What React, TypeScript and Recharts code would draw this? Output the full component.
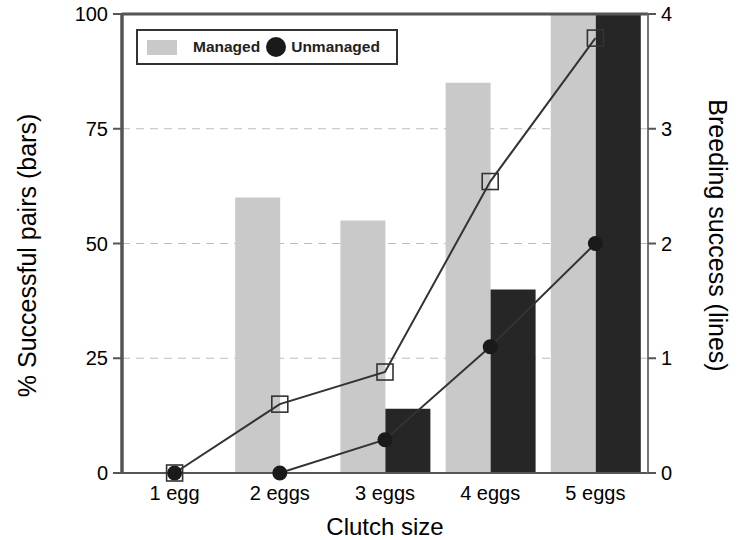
import React from "react";
import {
  ComposedChart, Bar, Line, XAxis, YAxis, CartesianGrid, ReferenceLine, Label,
} from "recharts";

const categories = ["1 egg", "2 eggs", "3 eggs", "4 eggs", "5 eggs"];
const managedPairs = [0, 60, 55, 85, 100];
const unmanagedPairs = [0, 0, 14, 40, 100];
const managedSuccess = [0, 0.6, 0.88, 2.54, 3.79];
const unmanagedSuccess = [0, 0, 0.29, 1.1, 2.0];
const leftTicks = [0, 25, 50, 75, 100];
const rightTicks = [0, 1, 2, 3, 4];
const legendNames = ["Managed", "Unmanaged"];

const data = categories.map((c, i) => ({
  clutch: c,
  managed: managedPairs[i],
  unmanaged: unmanagedPairs[i],
  managedLine: managedSuccess[i],
  unmanagedLine: unmanagedSuccess[i],
}));

const FONT = "'Liberation Sans', Arial, sans-serif";
const AXIS = "#555";
const LIGHT = "#c9c9c9";
const DARK = "#262626";

function SquareDot(props: any) {
  const { cx, cy } = props;
  if (cx == null || cy == null) return null;
  return <rect x={cx - 8} y={cy - 8} width={16} height={16} fill="none" stroke="#333" strokeWidth={1.6} />;
}

function CircleDot(props: any) {
  const { cx, cy } = props;
  if (cx == null || cy == null) return null;
  return <circle cx={cx} cy={cy} r={7.5} fill="#1a1a1a" />;
}

// legend drawn as a plain box over the plot, the chart keeps its full height
function LegendBox() {
  return (
    <div style={{
      position: "absolute", left: 136, top: 29, width: 262, height: 36,
      border: "2px solid #333", boxSizing: "border-box",
      display: "flex", alignItems: "center", paddingLeft: 9, background: "#fff",
      fontFamily: FONT, fontWeight: "bold", fontSize: 15.5, color: "#222",
    }}>
      {legendNames.map((name, i) => (
        <span key={name} style={{ display: "flex", alignItems: "center", marginRight: 6 }}>
          {i === 0 ? (
            <span style={{ display: "inline-block", width: 30, height: 15, background: LIGHT, marginRight: 16 }} />
          ) : (
            <span style={{ display: "inline-block", width: 20, height: 20, borderRadius: 10, background: "#1a1a1a", marginRight: 5 }} />
          )}
          {name}
        </span>
      ))}
    </div>
  );
}

function LeftTitle(props: any) {
  const vb = props.viewBox;
  const x = vb.x + 27;
  const y = vb.y + vb.height / 2 + 12;
  return (
    <text x={x} y={y} transform={`rotate(-90, ${x}, ${y})`} textAnchor="middle" dominantBaseline="central"
      fontFamily={FONT} fontSize={25} fill="#000">
      % Successful pairs (bars)
    </text>
  );
}

function RightTitle(props: any) {
  const vb = props.viewBox;
  const x = vb.x + 70;
  const y = vb.y + vb.height / 2 - 8;
  return (
    <text x={x} y={y} transform={`rotate(90, ${x}, ${y})`} textAnchor="middle" dominantBaseline="central"
      fontFamily={FONT} fontSize={25} fill="#000">
      Breeding success (lines)
    </text>
  );
}

export default function App() {
  const tick = { fontSize: 20, fill: "#000", fontFamily: FONT };
  return (
    <div style={{ position: "absolute", left: 0, top: 0, width: 738, height: 540, background: "#fff" }}>
      <ComposedChart width={738} height={540} data={data} barGap={0}
        margin={{ top: 14, right: 0, left: 0, bottom: 0 }}>
        <CartesianGrid vertical={false} yAxisId="left" stroke="#bdbdbd" strokeDasharray="8 6" />
        <XAxis dataKey="clutch" height={67} tickLine={false} tickSize={0} tickMargin={13}
          tick={tick} axisLine={{ stroke: AXIS, strokeWidth: 2 }} interval={0}>
          <Label value="Clutch size" position="insideBottom" offset={5}
            style={{ fontSize: 24, fill: "#000", fontFamily: FONT }} />
        </XAxis>
        <YAxis yAxisId="left" domain={[0, 100]} ticks={leftTicks} width={122}
          tickSize={9} tickMargin={5} tick={tick}
          axisLine={{ stroke: AXIS, strokeWidth: 3.5 }} tickLine={{ stroke: AXIS, strokeWidth: 2 }}>
          <Label content={<LeftTitle />} />
        </YAxis>
        <YAxis yAxisId="right" orientation="right" domain={[0, 4]} ticks={rightTicks} width={90}
          tickSize={8} tickMargin={5} tick={tick}
          axisLine={{ stroke: "#777", strokeWidth: 2 }} tickLine={{ stroke: AXIS, strokeWidth: 2 }}>
          <Label content={<RightTitle />} />
        </YAxis>
        <ReferenceLine yAxisId="left" y={100} stroke={AXIS} strokeWidth={3} />
        <Bar yAxisId="left" dataKey="managed" name="Managed" fill={LIGHT} barSize={45} isAnimationActive={false} />
        <Bar yAxisId="left" dataKey="unmanaged" name="Unmanaged" fill={DARK} barSize={45} isAnimationActive={false} />
        <Line yAxisId="right" type="linear" dataKey="unmanagedLine" stroke="#333" strokeWidth={2}
          dot={<CircleDot />} activeDot={false} isAnimationActive={false} />
        <Line yAxisId="right" type="linear" dataKey="managedLine" stroke="#333" strokeWidth={2}
          dot={<SquareDot />} activeDot={false} isAnimationActive={false} />
      </ComposedChart>
      <LegendBox />
    </div>
  );
}
